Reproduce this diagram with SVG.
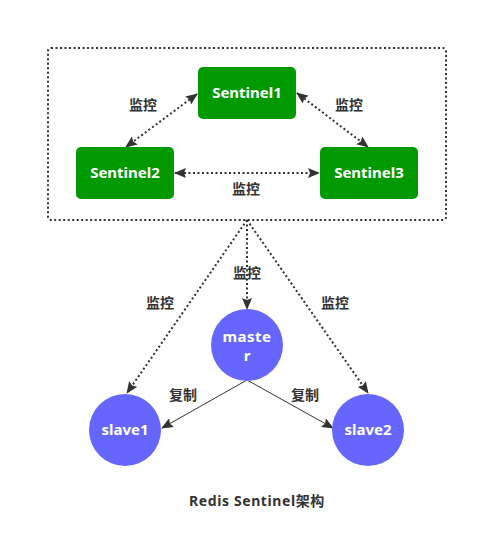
<svg xmlns="http://www.w3.org/2000/svg" width="478" height="550" viewBox="0 0 478 550">
<style>
.sent{fill:#009900;}
.circ{fill:#6666ff;}
.nt{font-family:"Noto Sans","Noto Sans CJK SC",sans-serif;font-weight:bold;font-size:15px;fill:#ffffff;text-anchor:middle;}
.lbl{font-family:"Noto Sans","Noto Sans CJK SC",sans-serif;font-weight:bold;font-size:14px;fill:#333333;text-anchor:middle;}
.dot{fill:none;stroke:#333333;stroke-width:2;stroke-dasharray:2 2.5;}
.sol{fill:none;stroke:#333333;stroke-width:1;}
</style>
<defs>
<marker id="ah" markerUnits="userSpaceOnUse" markerWidth="12" markerHeight="10" refX="11" refY="5" orient="auto-start-reverse" viewBox="0 0 12 10">
<path d="M0,0 L12,5 L0,10 L2,5 z" fill="#333333"/>
</marker>
</defs>
<rect x="0" y="0" width="478" height="550" fill="#ffffff"/>
<g id="frame">
<rect x="48" y="48" width="398" height="172" rx="3" fill="none" stroke="#333333" stroke-width="2" stroke-dasharray="2 2.5"/>
</g>
<g id="connectors">
<line class="dot" x1="197" y1="94" x2="126" y2="147" marker-start="url(#ah)" marker-end="url(#ah)"/>
<line class="dot" x1="297" y1="93" x2="368" y2="147" marker-start="url(#ah)" marker-end="url(#ah)"/>
<line class="dot" x1="175" y1="173" x2="319" y2="173" marker-start="url(#ah)" marker-end="url(#ah)"/>
<line class="dot" x1="247" y1="220" x2="247" y2="309" marker-end="url(#ah)"/>
<line class="dot" x1="247" y1="220" x2="127" y2="393" marker-end="url(#ah)"/>
<line class="dot" x1="247" y1="220" x2="368" y2="393" marker-end="url(#ah)"/>
<line class="sol" x1="247" y1="380" x2="162" y2="428" marker-end="url(#ah)"/>
<line class="sol" x1="247" y1="380" x2="333" y2="428" marker-end="url(#ah)"/>
<text class="lbl" x="143" y="110">监控</text>
<text class="lbl" x="349" y="110">监控</text>
<text class="lbl" x="246" y="194">监控</text>
<text class="lbl" x="247" y="278">监控</text>
<text class="lbl" x="160" y="308">监控</text>
<text class="lbl" x="335" y="308">监控</text>
<text class="lbl" x="183" y="400">复制</text>
<text class="lbl" x="305" y="400">复制</text>
</g>
<g id="sentinel1">
<rect class="sent" x="198" y="67" width="98" height="52" rx="5"/>
<text class="nt" x="247" y="98">Sentinel1</text>
</g>
<g id="sentinel2">
<rect class="sent" x="76" y="147" width="98" height="52" rx="5"/>
<text class="nt" x="125" y="178">Sentinel2</text>
</g>
<g id="sentinel3">
<rect class="sent" x="320" y="147" width="98" height="52" rx="5"/>
<text class="nt" x="369" y="178">Sentinel3</text>
</g>
<g id="master">
<circle class="circ" cx="247" cy="345" r="36"/>
<text class="nt" x="247" y="342" letter-spacing="0.5">maste</text>
<text class="nt" x="247" y="361">r</text>
</g>
<g id="slave1">
<circle class="circ" cx="125" cy="430" r="36"/>
<text class="nt" x="125" y="435">slave1</text>
</g>
<g id="slave2">
<circle class="circ" cx="368" cy="430" r="36"/>
<text class="nt" x="368" y="435">slave2</text>
</g>
<g id="title">
<text class="lbl" x="257" y="506" font-size="15" letter-spacing="0.6">Redis Sentinel架构</text>
</g>
</svg>
